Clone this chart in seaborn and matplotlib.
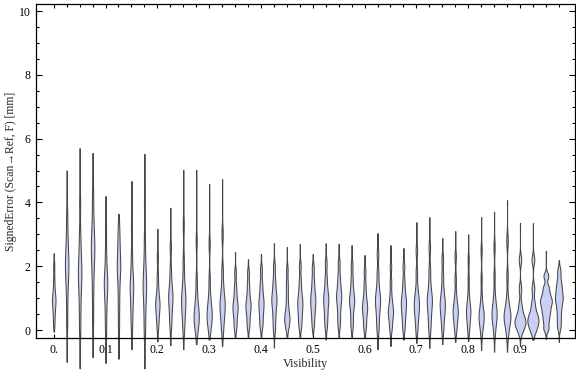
import matplotlib
matplotlib.use("Agg")
import matplotlib.pyplot as plt
from matplotlib.ticker import FixedLocator, MultipleLocator
import numpy as np
import pandas as pd
import seaborn as sns

# Visibility bins (one violin per bin)
vis_bins = [0.0, 0.025, 0.05, 0.075, 0.1, 0.125, 0.15, 0.175, 0.2, 0.225,
            0.25, 0.275, 0.3, 0.325, 0.35, 0.375, 0.4, 0.425, 0.45, 0.475,
            0.5, 0.525, 0.55, 0.575, 0.6, 0.625, 0.65, 0.675, 0.7, 0.725,
            0.75, 0.775, 0.8, 0.825, 0.85, 0.875, 0.9, 0.925, 0.95, 0.975]
tick_labels = ["0.", "0.1", "0.2", "0.3", "0.4", "0.5", "0.6", "0.7", "0.8", "0.9"]

# extremes of signed error per bin [mm]
err_min = [-0.05, -1.0, -1.2, -0.85, -1.03, -0.9, -0.6, -1.2, -0.35, -0.47,
           -0.6, -0.44, -0.3, -0.5, -0.25, -0.22, -0.22, -0.55, -0.25, -0.22,
           -0.15, -0.3, -0.22, -0.22, -0.25, -0.6, -0.5, -0.3, -0.4, -0.56,
           -0.44, -0.37, -0.34, -0.63, -0.68, -0.68, -0.5, -0.31, -0.28, -0.37]
err_max = [2.41, 5.0, 5.7, 5.55, 4.2, 3.64, 4.67, 5.52, 3.17, 3.83,
           5.02, 5.02, 4.58, 4.73, 2.44, 2.22, 2.38, 2.72, 2.6, 2.7,
           2.38, 2.72, 2.7, 2.66, 2.35, 3.04, 2.66, 2.57, 3.38, 3.54,
           2.88, 3.1, 3.0, 3.54, 3.71, 4.07, 3.36, 3.35, 2.48, 2.19]

# bulk of the errors per bin [mm]
err_body = [
    [0.2, 0.45, 0.65, 0.8, 0.9, 1.0, 1.1, 1.3, 1.6, 2.0],
    [0.2, 0.9, 1.4, 1.7, 1.95, 2.1, 2.3, 2.6, 3.0, 3.6],
    [0.0, 0.6, 1.1, 1.5, 1.7, 1.9, 2.1, 2.5, 3.0, 4.0],
    [0.3, 1.1, 1.7, 2.1, 2.4, 2.6, 2.8, 3.1, 3.6, 4.3],
    [0.0, 0.5, 0.9, 1.2, 1.4, 1.5, 1.7, 2.0, 2.5, 3.2],
    [0.1, 0.7, 1.2, 1.6, 1.9, 2.0, 2.2, 2.5, 2.8, 3.2],
    [0.1, 0.5, 0.8, 1.1, 1.3, 1.4, 1.6, 1.9, 2.4, 3.3],
    [-0.1, 0.4, 0.9, 1.2, 1.4, 1.5, 1.8, 2.2, 2.9, 4.0],
    [0.1, 0.35, 0.55, 0.7, 0.8, 0.9, 1.05, 1.3, 1.7, 2.3],
    [0.1, 0.4, 0.65, 0.85, 1.0, 1.1, 1.25, 1.5, 1.9, 2.6],
    [0.0, 0.35, 0.6, 0.8, 0.95, 1.05, 1.25, 1.6, 2.2, 3.3],
    [-0.05, 0.15, 0.3, 0.4, 0.5, 0.6, 0.8, 1.1, 1.6, 2.8],
    [0.0, 0.2, 0.35, 0.45, 0.55, 0.65, 0.85, 1.1, 1.6, 2.7],
    [0.0, 0.3, 0.5, 0.7, 0.8, 0.9, 1.1, 1.4, 1.9, 3.0],
    [0.05, 0.25, 0.45, 0.6, 0.7, 0.8, 0.95, 1.15, 1.4, 1.8],
    [0.1, 0.3, 0.5, 0.65, 0.75, 0.85, 1.0, 1.2, 1.45, 1.8],
    [0.1, 0.3, 0.5, 0.65, 0.8, 0.9, 1.05, 1.25, 1.5, 1.9],
    [0.0, 0.3, 0.55, 0.75, 0.9, 1.0, 1.15, 1.35, 1.6, 2.0],
    [0.05, 0.2, 0.3, 0.4, 0.5, 0.65, 0.9, 1.2, 1.5, 1.9],
    [0.1, 0.3, 0.5, 0.65, 0.8, 0.9, 1.05, 1.25, 1.55, 2.0],
    [0.15, 0.4, 0.6, 0.75, 0.9, 1.0, 1.15, 1.35, 1.6, 1.95],
    [0.1, 0.35, 0.55, 0.75, 0.9, 1.0, 1.15, 1.35, 1.65, 2.1],
    [0.15, 0.4, 0.65, 0.85, 1.0, 1.1, 1.25, 1.45, 1.7, 2.1],
    [0.1, 0.35, 0.6, 0.8, 0.9, 1.0, 1.15, 1.35, 1.65, 2.05],
    [0.05, 0.25, 0.45, 0.6, 0.7, 0.8, 0.95, 1.15, 1.45, 1.85],
    [0.0, 0.3, 0.55, 0.75, 0.9, 1.0, 1.15, 1.4, 1.8, 2.4],
    [0.0, 0.2, 0.4, 0.5, 0.6, 0.7, 0.85, 1.1, 1.5, 2.0],
    [0.05, 0.3, 0.5, 0.65, 0.8, 0.9, 1.05, 1.25, 1.55, 2.0],
    [0.0, 0.3, 0.5, 0.65, 0.8, 0.9, 1.05, 1.3, 1.8, 2.5],
    [0.0, 0.3, 0.55, 0.75, 0.9, 1.0, 1.15, 1.45, 1.9, 2.6],
    [0.0, 0.3, 0.5, 0.65, 0.8, 0.9, 1.05, 1.3, 1.7, 2.2],
    [0.0, 0.2, 0.4, 0.5, 0.6, 0.7, 0.85, 1.1, 1.6, 2.3],
    [0.0, 0.2, 0.4, 0.5, 0.6, 0.7, 0.85, 1.1, 1.6, 2.2],
    [-0.1, 0.15, 0.3, 0.4, 0.45, 0.55, 0.7, 1.0, 1.6, 2.5],
    [-0.1, 0.2, 0.35, 0.45, 0.55, 0.65, 0.8, 1.1, 1.7, 2.6],
    [-0.15, 0.15, 0.3, 0.4, 0.45, 0.55, 0.7, 1.0, 1.7, 2.8],
    [-0.05, 0.1, 0.2, 0.25, 0.3, 0.4, 0.55, 0.8, 1.3, 2.2],
    [-0.05, 0.1, 0.2, 0.3, 0.35, 0.45, 0.6, 0.85, 1.3, 2.2],
    [0.05, 0.3, 0.5, 0.65, 0.8, 0.9, 1.0, 1.15, 1.35, 1.7],
    [0.1, 0.35, 0.6, 0.8, 0.95, 1.05, 1.2, 1.35, 1.55, 1.85],
]
# number of scans behind each body value (more scans -> wider violin)
scans_per_value = [4, 4, 4, 4, 4, 4, 4, 4, 5, 5,
                   5, 6, 6, 6, 6, 6, 6, 6, 6, 6,
                   6, 6, 6, 6, 6, 6, 6, 6, 6, 6,
                   6, 6, 5, 6, 6, 8, 13, 13, 14, 9]

FILL = "#c9d0f3"
EDGE = "#474747"

rows = []
for v, lo, hi, body, k in zip(vis_bins, err_min, err_max, err_body, scans_per_value):
    obs = [lo] + list(np.repeat(body, k)) + [hi]
    for e in obs:
        rows.append({"Visibility": v, "Error": e})
df = pd.DataFrame(rows)

sns.set_theme(style="white")
plt.rcParams["font.family"] = ["Liberation Serif", "DejaVu Serif"]

fig = plt.figure(figsize=(5.76, 3.77), dpi=100)
ax = fig.add_axes([0.0625, 0.1034, 0.9358, 0.886])

sns.violinplot(data=df, x="Visibility", y="Error", order=vis_bins,
               color=FILL, saturation=1, inner=None, cut=0,
               bw_adjust=0.6, density_norm="count", width=0.92,
               linewidth=0.75, linecolor=EDGE, ax=ax)
for coll in ax.collections:
    coll.set_clip_on(False)

ax.set_xlim(-1.37, 40.25)
ax.set_ylim(-0.25, 10.22)

ax.xaxis.set_major_locator(FixedLocator(range(0, 40, 4)))
ax.set_xticklabels(tick_labels)
ax.xaxis.set_minor_locator(FixedLocator(range(40)))
ax.yaxis.set_major_locator(MultipleLocator(2))
ax.yaxis.set_minor_locator(MultipleLocator(0.5))

ax.tick_params(which="both", direction="in", top=True, right=True,
               bottom=True, left=True, colors="black", labelsize=8.5,
               width=0.8)
ax.tick_params(which="major", length=4, pad=4)
ax.tick_params(which="minor", length=2.5)
ax.tick_params(axis="x", which="major", length=3)

for sp in ax.spines.values():
    sp.set_color("black")
    sp.set_linewidth(0.9)

ax.set_xlabel("Visibility", fontsize=8.7, labelpad=2)
ax.set_ylabel("SignedError (Scan\u2192Ref, F) [mm]", fontsize=8.4, labelpad=1)

fig.savefig("out.png", dpi=100)
